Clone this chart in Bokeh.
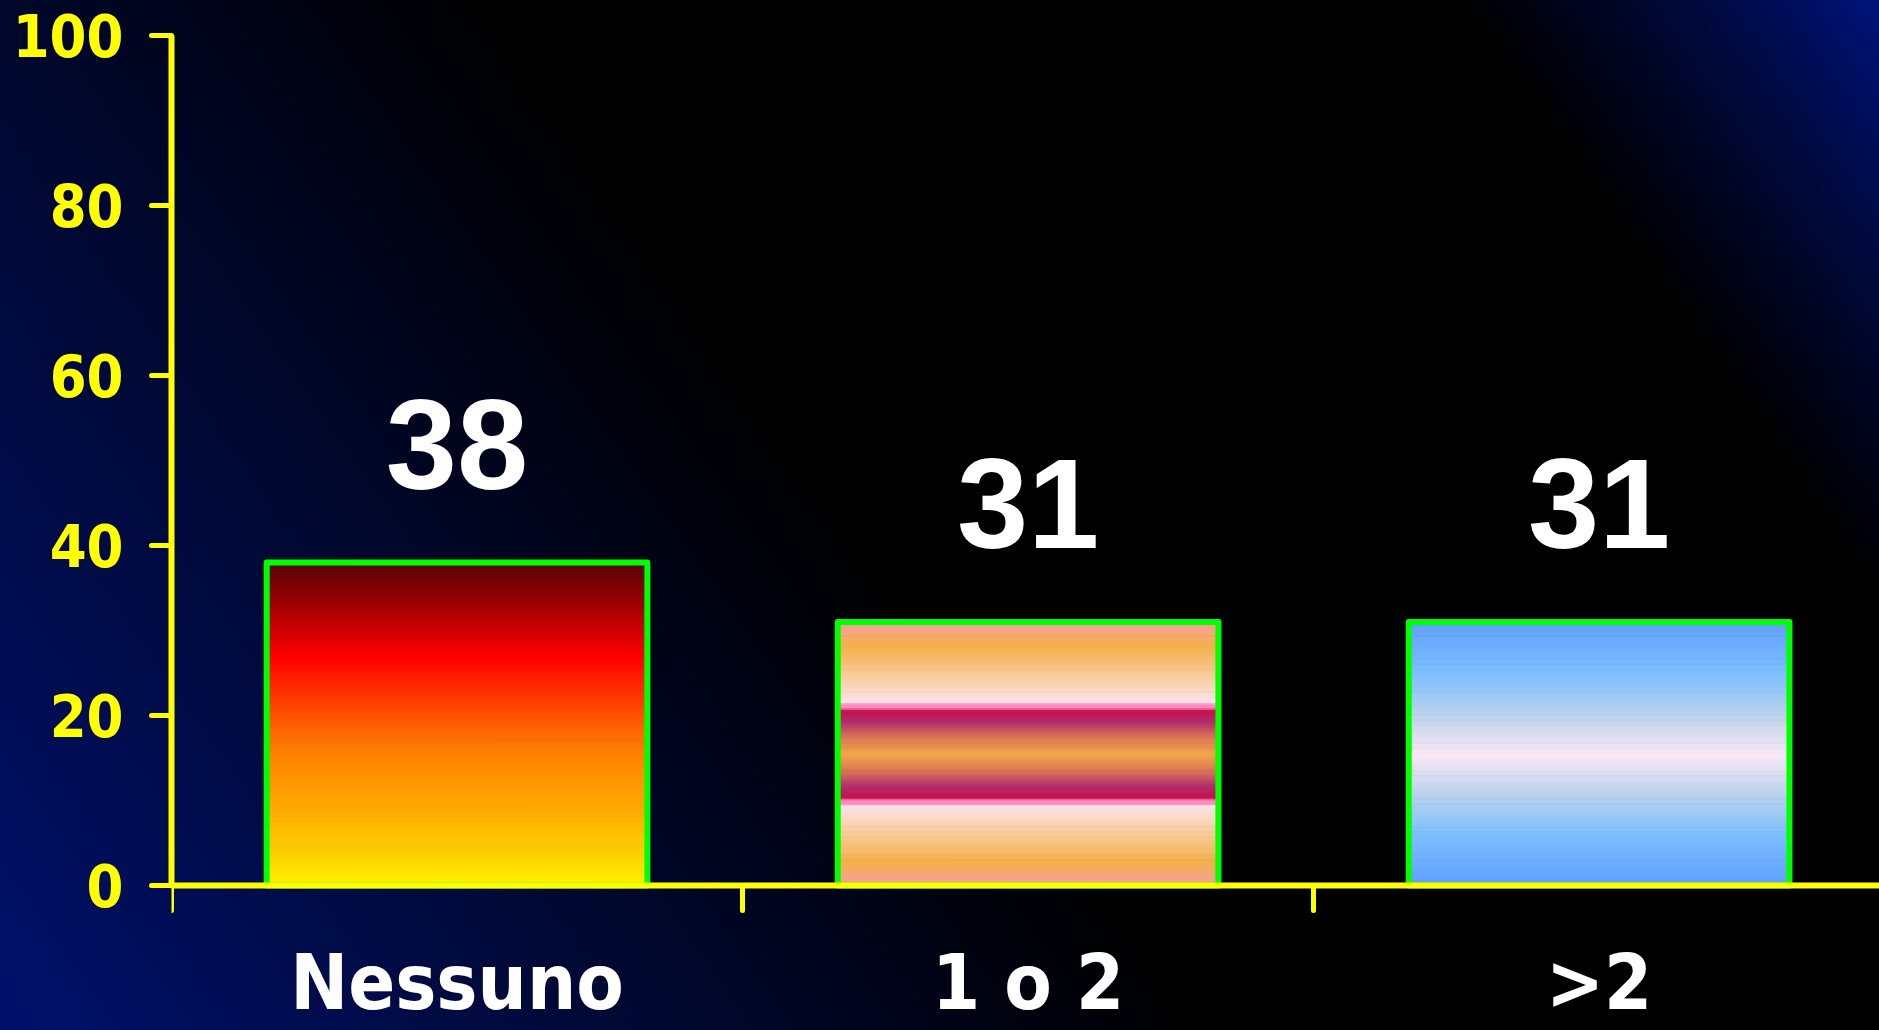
import numpy as np
from bokeh.plotting import figure
from bokeh.models import FixedTicker, Range1d, ColumnDataSource, LabelSet
from bokeh.core.properties import value
from bokeh.embed import file_html
from bokeh.resources import INLINE

# --- data ---------------------------------------------------------------
categories = ["Nessuno", "1 o 2", ">2"]
percent = [38, 31, 31]
y_ticks = [0, 20, 40, 60, 80, 100]

# --- styling ------------------------------------------------------------
YELLOW = "#ffff00"
GREEN = "#00ff00"
BAR_WIDTH = 2 / 3
SLICES = 160
PX_PER_UNIT = 8.5          # vertical scale: 100 % spans 850 px
GAP_BELOW_ZERO = 145       # room under the baseline for the category names

# vertical colour ramps for each bar, listed from the top edge (0) to the base (1)
bar_ramps = [
    [(0.00, "#580606"), (0.12, "#9a0202"), (0.29, "#ff0000"), (0.45, "#ff4800"),
     (0.58, "#ff8000"), (0.75, "#ffa800"), (0.90, "#ffd000"), (1.00, "#fff200")],
    [(0.00, "#f8a0a4"), (0.09, "#f5b04a"), (0.20, "#f9cc98"), (0.305, "#fde4ea"),
     (0.31, "#ff90c0"), (0.325, "#ff88bb"), (0.335, "#c8104e"), (0.38, "#b2306e"),
     (0.43, "#d87058"), (0.50, "#f4a84a"), (0.57, "#d87058"), (0.62, "#b2306e"),
     (0.665, "#c8104e"), (0.675, "#ff88bb"), (0.69, "#ff90c0"), (0.695, "#fde4ea"),
     (0.80, "#f9cc98"), (0.91, "#f5b04a"), (1.00, "#f8a0a4")],
    [(0.00, "#60a0ff"), (0.20, "#80c0ff"), (0.36, "#c0d4ec"), (0.50, "#fbe8f8"),
     (0.64, "#c0d4ec"), (0.80, "#80c0ff"), (1.00, "#60a0ff")],
]


def hex_to_rgb(h):
    h = h.lstrip("#")
    return np.array([int(h[i:i + 2], 16) for i in (0, 2, 4)], dtype=float)


def ramp_colors(ramp, fracs):
    pos = np.array([s for s, _ in ramp])
    rgb = np.array([hex_to_rgb(c) for _, c in ramp])
    chans = [np.interp(fracs, pos, rgb[:, k]) for k in range(3)]
    return ["#%02x%02x%02x" % (int(round(r)), int(round(g)), int(round(b)))
            for r, g, b in zip(*chans)]


centers = [i + 0.5 for i in range(len(categories))]

W, H = 1879, 1030
p = figure(
    width=W, height=H,
    x_range=Range1d(0, 2.991),
    y_range=Range1d(-GAP_BELOW_ZERO / PX_PER_UNIT, 100),
    output_backend="svg", toolbar_location=None,
    min_border_left=171, min_border_right=0, min_border_top=35, min_border_bottom=0,
)
p.background_fill_alpha = 0
p.border_fill_alpha = 0
p.outline_line_color = None
p.grid.visible = False
p.styles = {
    "background": "linear-gradient(55deg, #00116c 0%, #000000 46%, "
                  "#000000 84%, #00093e 93%, #00137a 100%)",
}

# gradient-filled bars: each bar is a stack of thin horizontal slices
for xc, v, ramp in zip(centers, percent, bar_ramps):
    edges = np.linspace(0, v, SLICES + 1)
    mids = (edges[:-1] + edges[1:]) / 2
    colors = ramp_colors(ramp, 1 - mids / v)
    p.quad(
        left=[xc - BAR_WIDTH / 2] * SLICES, right=[xc + BAR_WIDTH / 2] * SLICES,
        bottom=edges[:-1], top=edges[1:],
        fill_color=colors, line_color=colors, line_width=1,
    )

# green outline around each bar
p.vbar(x=centers, top=percent, bottom=0, width=BAR_WIDTH,
       fill_alpha=0, line_color=GREEN, line_width=6, line_join="round")

# value labels above the bars
labels_src = ColumnDataSource(data=dict(x=centers, y=percent,
                                        text=[str(v) for v in percent]))
p.add_layout(LabelSet(
    x="x", y="y", text="text", source=labels_src, y_offset=74,
    text_font=value("Liberation Sans"), text_font_style="bold",
    text_font_size="128px", text_color="white",
    text_align="center", text_baseline="alphabetic",
))

# x axis pinned to the zero line: category names under the bars,
# tick marks on the category boundaries
xa = p.xaxis[0]
xa.fixed_location = 0
xa.ticker = FixedTicker(ticks=centers, minor_ticks=list(range(len(categories) + 1)))
xa.major_label_overrides = {c: name for c, name in zip(centers, categories)}
xa.major_tick_out = 0
xa.major_tick_in = 0
xa.major_tick_line_color = None
xa.minor_tick_out = 25
xa.minor_tick_in = 0
xa.minor_tick_line_color = YELLOW
xa.minor_tick_line_width = 5
xa.minor_tick_line_cap = "round"
xa.axis_line_color = YELLOW
xa.axis_line_width = 6
xa.major_label_text_color = "white"
xa.major_label_text_font = "DejaVu Sans Condensed"
xa.major_label_text_font_style = "bold"
xa.major_label_text_font_size = "77px"
xa.major_label_standoff = 27

# y axis: percentage scale from 0 to 100
ya = p.yaxis[0]
ya.bounds = (0, 100)
ya.ticker = FixedTicker(ticks=y_ticks)
ya.major_tick_out = 20
ya.major_tick_in = 0
ya.major_tick_line_color = YELLOW
ya.major_tick_line_width = 5
ya.major_tick_line_cap = "round"
ya.minor_tick_line_color = None
ya.minor_tick_out = 0
ya.axis_line_color = YELLOW
ya.axis_line_width = 6
ya.major_label_text_color = YELLOW
ya.major_label_text_font = "DejaVu Sans Condensed"
ya.major_label_text_font_style = "bold"
ya.major_label_text_font_size = "59px"
ya.major_label_standoff = 28

open("out.html", "w").write(file_html(p, INLINE))
